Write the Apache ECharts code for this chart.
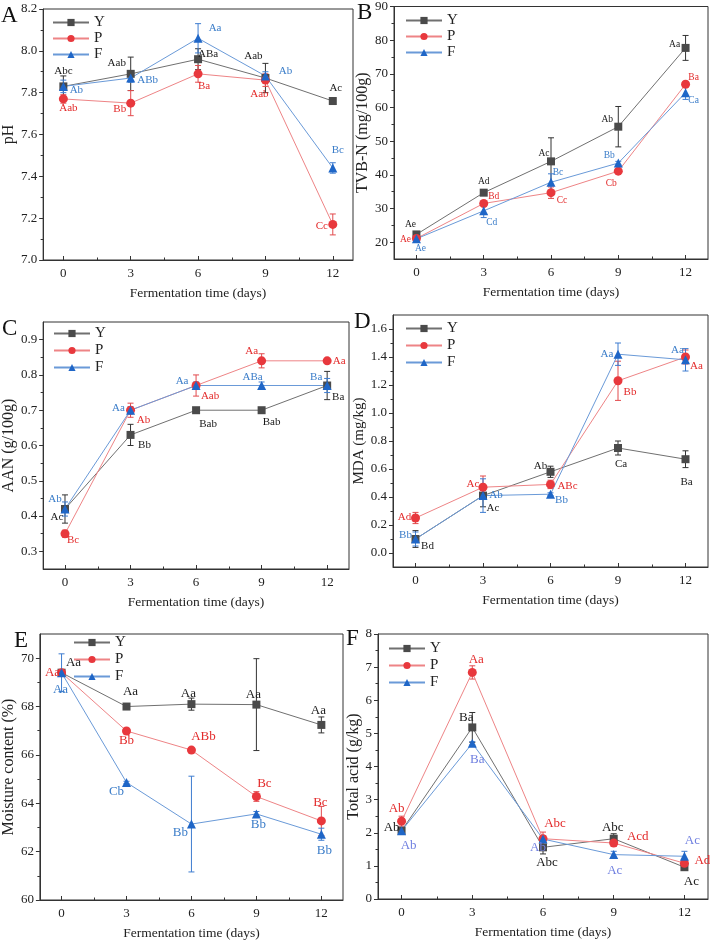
<!DOCTYPE html>
<html>
<head>
<meta charset="utf-8">
<script src="https://cdn.jsdelivr.net/npm/echarts@6/dist/echarts.min.js"></script>
<style>
  html, body { margin: 0; padding: 0; background: #fff; }
  #main { width: 710px; height: 944px; }
</style>
</head>
<body>
<div id="main"></div>
<script>
// ---- data ----
const days = [0, 3, 6, 9, 12];
const seriesNames = ['Y', 'P', 'F'];

// A: pH
const phY = [7.83, 7.89, 7.96, 7.87, 7.76];
const phP = [7.77, 7.75, 7.89, 7.86, 7.17];
const phF = [7.83, 7.87, 8.06, 7.88, 7.44];
const phYErr = [0.05, 0.08, 0.05, 0.07, 0.015];
const phPErr = [0.02, 0.06, 0.04, 0.03, 0.05];
const phFErr = [0.03, 0.02, 0.07, 0.02, 0.025];
const phYTxt = ['Abc', 'Aab', 'ABa', 'Aab', 'Ac'];
const phPTxt = ['Aab', 'Bb', 'Ba', 'Aab', 'Cc'];
const phFTxt = ['Ab', 'ABb', 'Aa', 'Ab', 'Bc'];

// B: TVB-N
const tvbY = [22.3, 34.7, 44.0, 54.3, 77.7];
const tvbP = [21.1, 31.5, 34.7, 41.1, 66.9];
const tvbF = [21.0, 29.3, 37.8, 43.5, 64.4];
const tvbYErr = [0.5, 0.5, 7, 6, 3.7];
const tvbPErr = [0.5, 0.5, 1.7, 0.5, 0.5];
const tvbFErr = [0.5, 2, 2.5, 0.5, 2];
const tvbYTxt = ['Ae', 'Ad', 'Ac', 'Ab', 'Aa'];
const tvbPTxt = ['Ae', 'Bd', 'Cc', 'Cb', 'Ba'];
const tvbFTxt = ['Ae', 'Cd', 'Bc', 'Bb', 'Ca'];

// C: AAN
const aanY = [0.42, 0.63, 0.70, 0.70, 0.77];
const aanP = [0.35, 0.70, 0.77, 0.84, 0.84];
const aanF = [0.42, 0.70, 0.77, 0.77, 0.77];
const aanYErr = [0.04, 0.03, 0.005, 0.005, 0.04];
const aanPErr = [0.01, 0.02, 0.03, 0.02, 0.005];
const aanFErr = [0.02, 0.01, 0.01, 0.01, 0.02];
const aanYTxt = ['Ac', 'Bb', 'Bab', 'Bab', 'Ba'];
const aanPTxt = ['Bc', 'Ab', 'Aab', 'Aa', 'Aa'];
const aanFTxt = ['Ab', 'Aa', 'Aa', 'ABa', 'Ba'];

// D: MDA
const mdaY = [0.10, 0.41, 0.58, 0.75, 0.67];
const mdaP = [0.25, 0.47, 0.49, 1.23, 1.40];
const mdaF = [0.10, 0.41, 0.42, 1.42, 1.38];
const mdaYErr = [0.06, 0.08, 0.04, 0.05, 0.06];
const mdaPErr = [0.04, 0.08, 0.03, 0.14, 0.05];
const mdaFErr = [0.05, 0.12, 0.01, 0.08, 0.08];
const mdaYTxt = ['Bd', 'Ac', 'Ab', 'Ca', 'Ba'];
const mdaPTxt = ['Ad', 'Ac', 'ABc', 'Bb', 'Aa'];
const mdaFTxt = ['Bb', 'Ab', 'Bb', 'Aa', 'Aa'];

// E: moisture
const moistY = [69.4, 68.0, 68.1, 68.08, 67.24];
const moistP = [69.4, 66.99, 66.2, 64.28, 63.27];
const moistF = [69.4, 64.86, 63.14, 63.56, 62.72];
const moistYErr = [0.1, 0.05, 0.25, 1.9, 0.33];
const moistPErr = [0.1, 0.05, 0.1, 0.2, 0.6];
const moistFErr = [0.78, 0.05, 1.98, 0.1, 0.25];
const moistYTxt = ['Aa', 'Aa', 'Aa', 'Aa', 'Aa'];
const moistPTxt = ['Aa', 'Bb', 'ABb', 'Bc', 'Bc'];
const moistFTxt = ['Aa', 'Cb', 'Bb', 'Bb', 'Bb'];

// F: total acid
const acidY = [2.06, 5.18, 1.56, 1.82, 0.96];
const acidP = [2.35, 6.84, 1.82, 1.69, 1.08];
const acidF = [2.06, 4.70, 1.81, 1.34, 1.29];
const acidYErr = [0.1, 0.45, 0.2, 0.15, 0.1];
const acidPErr = [0.15, 0.2, 0.2, 0.1, 0.08];
const acidFErr = [0.1, 0.05, 0.1, 0.1, 0.15];
const acidYTxt = ['Ab', 'Ba', 'Abc', 'Abc', 'Ac'];
const acidPTxt = ['Ab', 'Aa', 'Abc', 'Acd', 'Ad'];
const acidFTxt = ['Ab', 'Ba', 'Ab', 'Ac', 'Ac'];

// y tick labels
const phTicks = [7.0, 7.2, 7.4, 7.6, 7.8, 8.0, 8.2];
const tvbTicks = [20, 30, 40, 50, 60, 70, 80, 90];
const aanTicks = [0.3, 0.4, 0.5, 0.6, 0.7, 0.8, 0.9];
const mdaTicks = [0.0, 0.2, 0.4, 0.6, 0.8, 1.0, 1.2, 1.4, 1.6];
const moistTicks = [60, 62, 64, 66, 68, 70];
const acidTicks = [0, 1, 2, 3, 4, 5, 6, 7, 8];

// ---- layout / style ----
const FONT = '"Liberation Serif", "Times New Roman", serif';
const markColor = ['#4a4a4a', '#e8383d', '#1f66c7'];
const lineColor = ['#707070', '#ee8486', '#6a9ad8'];
const errColor = ['#333333', '#e24a4d', '#3f7dd0'];
const symbols = ['rect', 'circle', 'triangle'];
const symbolSizes = [8, 9, 9];

const panels = [
  { letter: 'A', letterPos: [1, 4], grid: { left: 43, top: 9, width: 310, height: 251 },
    x: [-0.9, 12.9], y: [7.0, 8.2], ticks: phTicks, dec: 1, yName: 'pH', yGap: 21, yNameSize: 16,
    legend: [52, 15, 1], lblSize: 11,
    vals: [phY, phP, phF], errs: [phYErr, phPErr, phFErr], txt: [phYTxt, phPTxt, phFTxt],
    off: [
      [[0, -15], [-14, -11], [10, -5], [-12, -22], [3, -13]],
      [[5, 9], [-11, 6], [6, 12], [-6, 14], [-11, 2]],
      [[13, 4], [17, 2], [17, -10], [20, -5], [5, -18]]
    ], txtColor: ['#1a1a1a', '#e32b2b', '#3b7dc9'] },
  { letter: 'B', letterPos: [357, 1], grid: { left: 394, top: 5, width: 314, height: 254 },
    x: [-1, 13], y: [15, 90], ticks: tvbTicks, dec: 0, yName: 'TVB-N (mg/100g)', yGap: 20, yNameSize: 16,
    legend: [405, 13, 1], lblSize: 9.5,
    vals: [tvbY, tvbP, tvbF], errs: [tvbYErr, tvbPErr, tvbFErr], txt: [tvbYTxt, tvbPTxt, tvbFTxt],
    off: [
      [[-6, -10], [0, -11], [-7, -8], [-11, -7], [-11, -3]],
      [[-11, 1], [10, -7], [11, 8], [-7, 12], [8, -7]],
      [[4, 10], [8, 12], [7, -10], [-9, -8], [8, 8]]
    ], txtColor: ['#1a1a1a', '#e32b2b', '#3b7dc9'] },
  { letter: 'C', letterPos: [2, 317], grid: { left: 43, top: 322, width: 306, height: 247 },
    x: [-1, 13], y: [0.25, 0.95], ticks: aanTicks, dec: 1, yName: 'AAN (g/100g)', yGap: 23, yNameSize: 16,
    legend: [53, 326, 2], lblSize: 11,
    vals: [aanY, aanP, aanF], errs: [aanYErr, aanPErr, aanFErr], txt: [aanYTxt, aanPTxt, aanFTxt],
    off: [
      [[-8, 8], [14, 10], [12, 14], [10, 12], [11, 12]],
      [[8, 6], [13, 10], [14, 11], [-10, -10], [12, 0]],
      [[-10, -10], [-12, -2], [-14, -4], [-9, -8], [-11, -8]]
    ], txtColor: ['#1a1a1a', '#e32b2b', '#3b7dc9'] },
  { letter: 'D', letterPos: [354, 310], grid: { left: 393, top: 315, width: 315, height: 252 },
    x: [-1, 13], y: [-0.1, 1.7], ticks: mdaTicks, dec: 1, yName: 'MDA (mg/kg)', yGap: 24, yNameSize: 15,
    legend: [405, 321, 2], lblSize: 11,
    vals: [mdaY, mdaP, mdaF], errs: [mdaYErr, mdaPErr, mdaFErr], txt: [mdaYTxt, mdaPTxt, mdaFTxt],
    off: [
      [[12, 7], [10, 13], [-10, -6], [3, 16], [1, 23]],
      [[-11, -1], [-10, -3], [17, 2], [12, 11], [11, 9]],
      [[-10, -4], [13, 0], [11, 6], [-11, 0], [-8, -10]]
    ], txtColor: ['#1a1a1a', '#e32b2b', '#3b7dc9'] },
  { letter: 'E', letterPos: [14, 629], grid: { left: 36, top: 634, width: 307, height: 266 },
    x: [-1, 13], y: [60, 71], ticks: moistTicks, dec: 0, yName: 'Moisture content (%)', yGap: 18, yNameSize: 16,
    legend: [73, 635, 2], lblSize: 13,
    vals: [moistY, moistP, moistF], errs: [moistYErr, moistPErr, moistFErr], txt: [moistYTxt, moistPTxt, moistFTxt],
    off: [
      [[12, -10], [4, -15], [-3, -11], [-3, -10], [-3, -14]],
      [[-9, 0], [0, 10], [12, -13], [8, -13], [-1, -18]],
      [[-1, 17], [-10, 9], [-11, 9], [2, 11], [3, 16]]
    ], txtColor: ['#1a1a1a', '#e32b2b', '#3b7dc9'] },
  { letter: 'F', letterPos: [346, 627], grid: { left: 378, top: 634, width: 330, height: 265 },
    x: [-1, 13], y: [0, 8], ticks: acidTicks, dec: 0, yName: 'Total acid (g/kg)', yGap: 13, yNameSize: 16,
    legend: [388, 641, 2], lblSize: 13,
    vals: [acidY, acidP, acidF], errs: [acidYErr, acidPErr, acidFErr], txt: [acidYTxt, acidPTxt, acidFTxt],
    off: [
      [[-10, -3], [-6, -10], [4, 15], [-1, -11], [7, 14]],
      [[-5, -13], [4, -13], [12, -15], [24, -6], [18, -3]],
      [[7, 15], [5, 16], [-5, 9], [1, 16], [8, -16]]
    ], txtColor: ['#1a1a1a', '#e32b2b', '#6f7fe0'] }
];

function midpoints(arr) {
  const out = [];
  for (let i = 0; i < arr.length - 1; i++) out.push((arr[i] + arr[i + 1]) / 2);
  return out;
}

const grid = [], xAxis = [], yAxis = [], series = [], legend = [], title = [];

panels.forEach(function (p, i) {
  grid.push(Object.assign({ show: true, borderColor: '#333', borderWidth: 1, containLabel: false }, p.grid));

  xAxis.push({
    type: 'value', gridIndex: i, position: 'bottom', min: p.x[0], max: p.x[1],
    axisLine: { onZero: false, lineStyle: { color: '#333' } },
    axisTick: { inside: true, length: 4, customValues: days, lineStyle: { color: '#333' } },
    axisLabel: { customValues: days, fontSize: 13, fontFamily: FONT, color: '#222', margin: 7 },
    splitLine: { show: false },
    name: 'Fermentation time (days)', nameLocation: 'middle', nameGap: 26,
    nameTextStyle: { fontSize: 13.5, fontFamily: FONT, color: '#222' }
  });
  xAxis.push({
    type: 'value', gridIndex: i, position: 'bottom', min: p.x[0], max: p.x[1],
    axisLine: { show: false, onZero: false },
    axisTick: { inside: true, length: 2.5, customValues: midpoints(days), lineStyle: { color: '#333' } },
    axisLabel: { show: false }, splitLine: { show: false }
  });

  yAxis.push({
    type: 'value', gridIndex: i, position: 'left', min: p.y[0], max: p.y[1],
    axisLine: { show: true, onZero: false, lineStyle: { color: '#333' } },
    axisTick: { show: true, length: 4, customValues: p.ticks, lineStyle: { color: '#333' } },
    axisLabel: {
      customValues: p.ticks, fontSize: 13, fontFamily: FONT, color: '#222', margin: 6,
      formatter: function (v) { return Number(v).toFixed(p.dec); }
    },
    splitLine: { show: false },
    name: p.yName, nameLocation: 'middle', nameGap: p.yGap,
    nameTextStyle: { fontSize: p.yNameSize, fontFamily: FONT, color: '#222' }
  });
  yAxis.push({
    type: 'value', gridIndex: i, position: 'left', min: p.y[0], max: p.y[1],
    axisLine: { show: false, onZero: false },
    axisTick: { show: true, length: 2.5, customValues: midpoints(p.ticks), lineStyle: { color: '#333' } },
    axisLabel: { show: false }, splitLine: { show: false }
  });

  title.push({
    text: p.letter, left: p.letterPos[0], top: p.letterPos[1], padding: 0,
    textStyle: { fontSize: 23, fontFamily: FONT, fontWeight: 'normal', color: '#111' }
  });

  legend.push({
    data: seriesNames, orient: 'vertical', left: p.legend[0], top: p.legend[1], padding: 0,
    itemGap: p.legend[2], itemWidth: 36, itemHeight: 9,
    textStyle: { fontSize: 15, fontFamily: FONT, color: '#222', lineHeight: 14 },
    selectedMode: false
  });

  for (let k = 0; k < 3; k++) {
    const vals = p.vals[k], errs = p.errs[k], txt = p.txt[k], off = p.off[k];
    series.push({
      type: 'custom', xAxisIndex: 2 * i, yAxisIndex: 2 * i, z: 3, silent: true,
      data: days.map(function (d, j) { return [d, vals[j] - errs[j], vals[j] + errs[j]]; }),
      renderItem: function (params, api) {
        const lo = api.coord([api.value(0), api.value(1)]);
        const hi = api.coord([api.value(0), api.value(2)]);
        const w = 3;
        const style = { stroke: errColor[k], lineWidth: 1 };
        return {
          type: 'group', children: [
            { type: 'line', shape: { x1: lo[0], y1: lo[1], x2: hi[0], y2: hi[1] }, style: style },
            { type: 'line', shape: { x1: lo[0] - w, y1: lo[1], x2: lo[0] + w, y2: lo[1] }, style: style },
            { type: 'line', shape: { x1: hi[0] - w, y1: hi[1], x2: hi[0] + w, y2: hi[1] }, style: style }
          ]
        };
      }
    });
    series.push({
      type: 'line', name: seriesNames[k], xAxisIndex: 2 * i, yAxisIndex: 2 * i, z: 4,
      symbol: symbols[k], symbolSize: symbolSizes[k],
      itemStyle: { color: markColor[k] },
      lineStyle: { color: lineColor[k], width: 1 },
      label: { show: true, position: 'inside', color: p.txtColor[k], fontSize: p.lblSize, fontFamily: FONT },
      emphasis: { disabled: true },
      data: days.map(function (d, j) {
        return {
          value: [d, vals[j]],
          label: { show: true, position: 'inside', formatter: txt[j], offset: off[j] }
        };
      })
    });
  }
});

const chart = echarts.init(document.getElementById('main'), null, { renderer: 'canvas' });
chart.setOption({
  backgroundColor: '#fff',
  animation: false,
  title: title,
  legend: legend,
  grid: grid,
  xAxis: xAxis,
  yAxis: yAxis,
  series: series
});
</script>
</body>
</html>
